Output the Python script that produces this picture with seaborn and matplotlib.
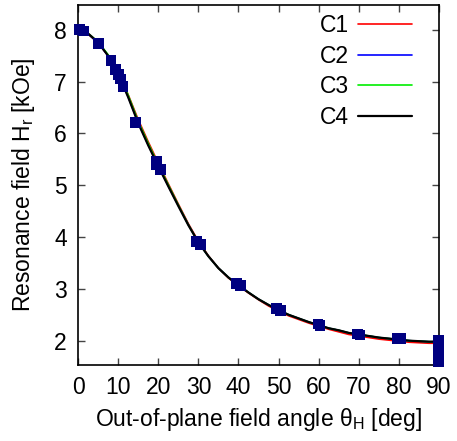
import numpy as np
import pandas as pd
import matplotlib
matplotlib.use("Agg")
import matplotlib.pyplot as plt
import seaborn as sns

# ---------------------------------- Dados ----------------------------------
# curvas calculadas, passo de 2.5 graus
theta_fit = [0, 2.5, 5, 7.5, 10, 12.5, 15, 17.5, 20, 22.5, 25, 27.5, 30, 32.5,
             35, 37.5, 40, 42.5, 45, 47.5, 50, 52.5, 55, 57.5, 60, 62.5, 65,
             67.5, 70, 72.5, 75, 77.5, 80, 82.5, 85, 87.5, 90]
hr_c4 = [8.00, 7.93, 7.76, 7.50, 7.16, 6.70, 6.20, 5.77, 5.37, 4.98, 4.60,
         4.23, 3.90, 3.63, 3.40, 3.22, 3.07, 2.93, 2.80, 2.69, 2.59, 2.50,
         2.43, 2.36, 2.30, 2.24, 2.20, 2.15, 2.12, 2.09, 2.06, 2.04, 2.02,
         2.00, 1.99, 1.98, 1.98]
hr_c1 = [7.99, 7.92, 7.75, 7.50, 7.18, 6.75, 6.27, 5.84, 5.43, 5.03, 4.64,
         4.26, 3.92, 3.64, 3.40, 3.21, 3.06, 2.92, 2.79, 2.67, 2.57, 2.48,
         2.41, 2.34, 2.28, 2.22, 2.17, 2.12, 2.09, 2.06, 2.03, 2.01, 1.99,
         1.97, 1.96, 1.95, 1.95]
hr_c2 = [7.99, 7.92, 7.75, 7.50, 7.16, 6.71, 6.21, 5.78, 5.38, 4.99, 4.61,
         4.24, 3.90, 3.63, 3.40, 3.22, 3.07, 2.93, 2.80, 2.69, 2.59, 2.50,
         2.43, 2.36, 2.30, 2.24, 2.20, 2.15, 2.12, 2.09, 2.06, 2.04, 2.02,
         2.00, 1.99, 1.98, 1.98]
hr_c3 = [8.00, 7.93, 7.77, 7.52, 7.19, 6.74, 6.24, 5.81, 5.40, 5.01, 4.62,
         4.24, 3.90, 3.63, 3.40, 3.22, 3.07, 2.93, 2.80, 2.69, 2.59, 2.50,
         2.43, 2.36, 2.30, 2.24, 2.20, 2.15, 2.12, 2.09, 2.06, 2.04, 2.02,
         2.00, 1.99, 1.98, 1.98]

# pontos experimentais
theta_exp = [0.3, 1.3, 5.2, 8.2, 9.4, 10.0, 10.5, 11.2, 14.4, 19.5, 19.5, 20.5,
             29.5, 30.5, 39.5, 40.5, 49.5, 50.5, 59.8, 60.3, 69.7, 70.3, 79.7,
             80.5, 89.8, 89.9, 89.9, 89.9, 89.9, 89.9]
hr_exp = [8.00, 7.98, 7.74, 7.41, 7.23, 7.14, 7.05, 6.91, 6.21, 5.46, 5.39,
          5.30, 3.91, 3.85, 3.11, 3.06, 2.62, 2.58, 2.32, 2.29, 2.13, 2.11,
          2.04, 2.04, 2.00, 1.92, 1.84, 1.76, 1.68, 1.60]

curvas = {'C1': (hr_c1, '#ff0000', 1.2),
          'C2': (hr_c2, '#0000ff', 1.2),
          'C3': (hr_c3, '#00ee00', 1.2),
          'C4': (hr_c4, '#000000', 1.6)}

# --------------------------------- Figura ----------------------------------
sns.set_style("ticks")
plt.rcParams['font.family'] = ['Liberation Sans', 'DejaVu Sans']
plt.rcParams['mathtext.fontset'] = 'custom'
plt.rcParams['mathtext.rm'] = 'Liberation Sans'
plt.rcParams['mathtext.default'] = 'rm'
plt.rcParams['text.color'] = 'black'
plt.rcParams['axes.labelcolor'] = 'black'

fig = plt.figure(figsize=(4.57, 4.41), dpi=100)
ax = fig.add_axes([0.1707, 0.1723, 0.79, 0.8164])

for nome, (hr, cor, lw) in curvas.items():
    sns.lineplot(x=theta_fit, y=hr, color=cor, linewidth=lw, label=nome, ax=ax,
                 sort=False)

sns.scatterplot(x=theta_exp, y=hr_exp, marker='s', s=60, color='#000080',
                edgecolor='none', ax=ax, zorder=5, clip_on=False)

ax.set_xlim(0, 90)
ax.set_ylim(1.53, 8.48)
ax.set_xticks(range(0, 91, 10))
ax.set_yticks(range(2, 9))
ax.tick_params(direction='in', top=True, right=True, length=5, width=1,
               labelsize=16.5, pad=8, color='#444444', labelcolor='black')
for s in ax.spines.values():
    s.set_linewidth(1.2)
    s.set_color('black')

ax.set_xlabel(r'Out-of-plane field angle θ$_{\rm H}$ [deg]', fontsize=16.5,
              labelpad=5)
ax.set_ylabel(r'Resonance field H$_{\rm r}$ [kOe]', fontsize=16.5, labelpad=12)

ax.legend(loc='upper right', bbox_to_anchor=(0.925, 0.975), frameon=False,
          fontsize=16.5, markerfirst=False, handlelength=2.35,
          labelspacing=0.33, borderaxespad=0, borderpad=0,
          handletextpad=0.4)

plt.savefig("out.png", dpi=100)
